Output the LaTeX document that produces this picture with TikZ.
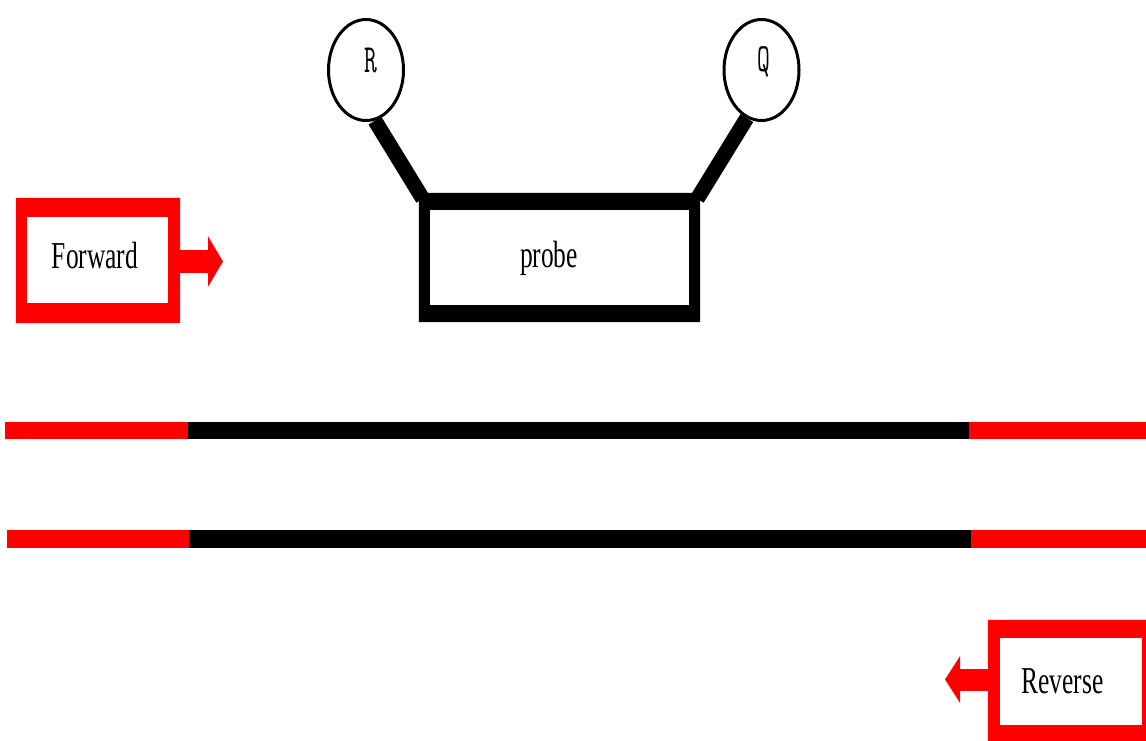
\documentclass[tikz,border=0pt]{standalone}
\usepackage{fontspec}
\usepackage{graphicx}
\setmainfont{Liberation Serif}
\usetikzlibrary{shapes.geometric,arrows.meta,calc}
\pgfdeclarelayer{background}
\pgfsetlayers{background,main}
\newcommand{\narrowtext}[1]{\scalebox{0.67}[1]{#1}}
\newcommand{\narrowtag}[1]{\scalebox{0.62}[1]{#1}}

\begin{document}
\begin{tikzpicture}[x=1pt,y=-1pt,
  lbl/.style={inner sep=0pt, anchor=base, font=\fontsize{38}{40}\selectfont},
  tag/.style={inner sep=0pt, anchor=base, font=\ttfamily\fontsize{40}{44}\selectfont},
  hole/.style={rectangle, draw=none, inner sep=0pt},
  bead/.style={ellipse, draw=black, fill=white, line width=3pt, inner sep=0pt,
               minimum width=75pt, minimum height=101pt},
  stem/.style={line width=15pt, black},
  redstrand/.style={line width=17pt, red},
  blackstrand/.style={line width=17pt, black},
  fatarrow/.style={red, line width=#1}
]
\useasboundingbox (0,0) rectangle (1146,740);
\clip (0,0) rectangle (1146,740);

% primer boxes (inner white area as node, thick red frame around it)
\node[hole, minimum width=141pt, minimum height=86pt] (fwd) at (97.5,260) {};
\fill[red, even odd rule] ($(fwd.north west)+(-11,-19)$) rectangle ($(fwd.south east)+(12,20)$)
      (fwd.north west) rectangle (fwd.south east);
\node[lbl] (fwdtext) at (95,268) {\narrowtext{Forward}};

\node[hole, minimum width=142pt, minimum height=87pt] (rev) at (1071,681.5) {};
\fill[red, even odd rule] ($(rev.north west)+(-12,-18)$) rectangle ($(rev.south east)+(12,20)$)
      (rev.north west) rectangle (rev.south east);
\node[lbl] (revtext) at (1062.5,693) {\narrowtext{Reverse}};

% direction arrows of the primers
\coordinate (fwdtip) at (223,261.5);
\draw[fatarrow=23pt, -{Triangle[length=15pt,width=50pt]}] (fwd.east |- fwdtip) -- (fwdtip);
\coordinate (revtip) at (945,679.5);
\draw[fatarrow=22pt, -{Triangle[length=15pt,width=46pt]}] (rev.west |- revtip) -- (revtip);

% probe with black frame
\node[hole, minimum width=259pt, minimum height=95pt] (probe) at (559.5,257.5) {};
\fill[black, even odd rule] ($(probe.north west)+(-11,-17)$) rectangle ($(probe.south east)+(11,17)$)
      (probe.north west) rectangle (probe.south east);
\node[lbl] (probetext) at (549,267) {\narrowtext{probe}};

% reporter and quencher
\node[bead] (R) at (366,70) {};
\node[tag] (rtext) at (371,72) {\narrowtag{R}};
\node[bead] (Q) at (761.5,70) {};
\node[tag] (qtext) at (763.5,71) {\narrowtag{Q}};

\coordinate (pnw) at ($(probe.north west)+(-7,-11)$);
\coordinate (pne) at ($(probe.north east)+(8,-11)$);
\begin{pgfonlayer}{background}
  \draw[stem] (R.-80) -- (pnw);
  \draw[stem] (Q.-107) -- (pne);
\end{pgfonlayer}

% double-stranded template
\coordinate (a0) at (5,430);   \coordinate (a1) at (188,430);
\coordinate (a2) at (969,430); \coordinate (a3) at (1150,430);
\draw[redstrand] (a0) -- (a1);
\draw[blackstrand] (a1) -- (a2);
\draw[redstrand] (a2) -- (a3);

\coordinate (b0) at (7,538.5);   \coordinate (b1) at (189,538.5);
\coordinate (b2) at (971,538.5); \coordinate (b3) at (1150,538.5);
\draw[redstrand, line width=18pt] (b0) -- (b1);
\draw[blackstrand, line width=18pt] (b1) -- (b2);
\draw[redstrand, line width=18pt] (b2) -- (b3);
\end{tikzpicture}
\end{document}
